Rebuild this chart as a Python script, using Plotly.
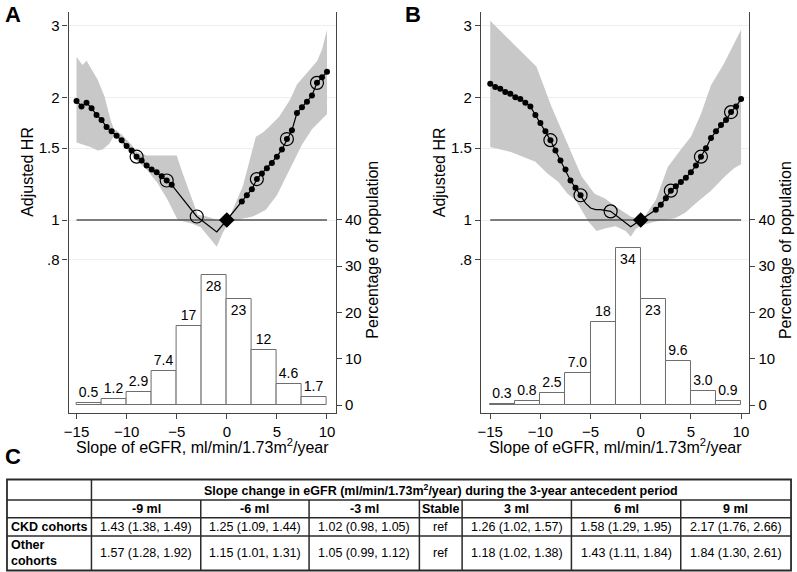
import plotly.graph_objects as go

W, H = 797, 572

# ---------------- data ----------------
slope_ticks = [-15, -10, -5, 0, 5, 10]
hr_tickvals = [0.8, 1, 1.5, 2, 3]
hr_ticktext = [".8", "1", "1.5", "2", "3"]
pct_tickvals = [0, 10, 20, 30, 40]

# histogram (percentage of population per 2.5-unit slope bin)
bin_left = [-15, -12.5, -10, -7.5, -5, -2.5, 0, 2.5, 5, 7.5]
bin_width = 2.5
A_pct = [0.5, 1.2, 2.9, 7.4, 17, 28, 23, 12, 4.6, 1.7]
B_pct = [0.3, 0.8, 2.5, 7.0, 18, 34, 23, 9.6, 3.0, 0.9]

# adjusted HR curves
A_curve_x = [-15, -14.5, -14, -13.5, -13, -12.5, -12, -11.5, -11, -10.5,
             -10, -9.5, -9, -8.5, -8, -7.5, -7, -6.5, -6, -5.5,
             -3, -1, 0,
             1.5, 2, 2.5, 3, 3.5, 4, 4.5, 5, 5.5, 6, 6.5, 7, 7.5, 8, 8.5, 9, 9.5, 10]
A_curve_y = [1.96, 1.90, 1.94, 1.88, 1.81, 1.76, 1.69, 1.65, 1.61, 1.57,
             1.52, 1.48, 1.43, 1.40, 1.36, 1.33, 1.31, 1.28, 1.25, 1.22,
             1.02, 0.935, 1.0,
             1.11, 1.15, 1.19, 1.26, 1.30, 1.34, 1.38, 1.43, 1.49, 1.58, 1.66, 1.83, 1.89, 1.95, 2.02, 2.17, 2.24, 2.31]
A_line_only_x = [-3, -1, 0]

B_curve_x = [-15, -14.5, -14, -13.5, -13, -12.5, -12, -11.5, -11, -10.5,
             -10, -9.5, -9, -8.5, -8, -7.5, -7, -6.5, -6,
             -5.5, -5, -4.5, -4, -3.5, -3, -1, 0,
             1.5, 2, 2.5, 3, 3.5, 4, 4.5, 5, 5.5, 6, 6.5, 7, 7.5, 8, 8.5, 9, 9.5, 10]
B_curve_y = [2.16, 2.12, 2.10, 2.06, 2.04, 2.00, 1.98, 1.94, 1.90, 1.81,
             1.73, 1.65, 1.57, 1.48, 1.40, 1.33, 1.25, 1.20, 1.15,
             1.10, 1.07, 1.06, 1.06, 1.055, 1.05, 0.963, 1.0,
             1.06, 1.09, 1.13, 1.18, 1.21, 1.24, 1.27, 1.31, 1.36, 1.43, 1.50, 1.59, 1.65, 1.71, 1.76, 1.84, 1.90, 1.98]
B_line_only_x = [-5.5, -5, -4.5, -4, -3.5, -3, -1, 0]

# 95% confidence bands
A_ci_upper_x = [-15, -14.4, -14.0, -12.9, -12.2, -11.6, -11.3, -10.5, -9.5, -9.0,
                -8.0, -5.0, -4.4, -3.4, -2.9, -2.0, -1.0, 0, 0.3, 1.6,
                2.9, 3.6, 4.2, 5.2, 6.3, 7.0, 8.0, 9.0, 9.5, 10]
A_ci_upper_y = [2.51, 2.40, 2.46, 2.21, 2.01, 1.76, 1.68, 1.62, 1.53, 1.47,
                1.44, 1.44, 1.30, 1.12, 1.03, 1.02, 1.0, 1.0, 1.02, 1.21,
                1.60, 1.64, 1.69, 1.79, 1.97, 2.15, 2.30, 2.45, 2.62, 2.93]
A_ci_lower_x = [-15, -13.6, -12.9, -12.4, -11.7, -11.2, -10.5, -9.5, -9.0, -8.0,
                -6.9, -5.9, -4.9, -3.5, -2.6, -1.0, -0.4, 0, 0.9, 2.6,
                3.9, 5.0, 6.0, 6.9, 7.5, 8.5, 10]
A_ci_lower_y = [1.55, 1.51, 1.48, 1.49, 1.54, 1.62, 1.54, 1.45, 1.40, 1.33,
                1.23, 1.12, 1.0, 0.98, 0.96, 0.86, 0.93, 0.97, 1.0, 1.02,
                1.06, 1.15, 1.28, 1.43, 1.53, 1.67, 1.82]

B_ci_upper_x = [-15, -11.0, -10.4, -8.9, -7.2, -5.9, -4.6, -3.6, -2.3, -1.0,
                0, 0.5, 1.5, 2.7, 4.0, 5.0, 6.0, 7.0, 8.3, 10]
B_ci_upper_y = [3.08, 2.47, 2.38, 1.90, 1.51, 1.28, 1.16, 1.13, 1.07, 1.02,
                1.0, 1.03, 1.12, 1.35, 1.49, 1.60, 1.82, 2.14, 2.42, 2.93]
B_ci_lower_x = [-15, -13, -10.5, -9.3, -8.2, -7.3, -6.5, -5.2, -4.4, -3.5,
                -2.5, -1.5, -1.0, -0.5, 0, 1.4, 3.4, 4.4, 5.7, 7.0,
                8.4, 9.3, 10]
B_ci_lower_y = [1.51, 1.47, 1.39, 1.30, 1.24, 1.16, 1.12, 0.99, 0.94, 0.955,
                0.965, 0.94, 0.91, 0.95, 0.97, 0.99, 1.01, 1.04, 1.11, 1.18,
                1.28, 1.34, 1.37]

# table (panel C)
ring_x = [-9, -6, -3, 3, 6, 9]
col_labels = ["-9 ml", "-6 ml", "-3 ml", "Stable", "3 ml", "6 ml", "9 ml"]
row_labels = ["CKD cohorts", "Other<br>cohorts"]
ckd_hr = [1.43, 1.25, 1.02, 1.26, 1.58, 2.17]
ckd_lo = [1.38, 1.09, 0.98, 1.02, 1.29, 1.76]
ckd_hi = [1.49, 1.44, 1.05, 1.57, 1.95, 2.66]
oth_hr = [1.57, 1.15, 1.05, 1.18, 1.43, 1.84]
oth_lo = [1.28, 1.01, 0.99, 1.02, 1.11, 1.30]
oth_hi = [1.92, 1.31, 1.12, 1.38, 1.84, 2.61]
ref_label = "ref"
ref_hr = 1.0
header_text = "Slope change in eGFR (ml/min/1.73m<sup>2</sup>/year) during the 3-year antecedent period"

# ---------------- helpers ----------------
def fx(px):
    return px / W

def fy(py):
    return 1 - py / H

FONT = "Liberation Sans, Arial, Helvetica, sans-serif"
BAND = "#c8c8c8"

fig = go.Figure()


def add_panel(xa, ya, ya2, pct, cx, cy, only, ux, uy, lx, ly, rings):
    xref = xa
    # CI band
    fig.add_trace(go.Scatter(x=ux + lx[::-1], y=uy + ly[::-1], fill="toself",
                             fillcolor=BAND, line=dict(width=0), mode="lines",
                             xaxis=xref, yaxis=ya, showlegend=False, hoverinfo="skip"))
    # reference line at HR = 1
    fig.add_trace(go.Scatter(x=[slope_ticks[0], slope_ticks[-1]], y=[ref_hr, ref_hr],
                             mode="lines", line=dict(color="#555555", width=1.3),
                             xaxis=xref, yaxis=ya, showlegend=False))
    # curve
    fig.add_trace(go.Scatter(x=cx, y=cy, mode="lines", line=dict(color="black", width=1.2),
                             xaxis=xref, yaxis=ya, showlegend=False))
    dx = [x for x in cx if x not in only]
    dy = [y for x, y in zip(cx, cy) if x not in only]
    fig.add_trace(go.Scatter(x=dx, y=dy, mode="markers",
                             marker=dict(color="black", size=6),
                             xaxis=xref, yaxis=ya, showlegend=False))
    fig.add_trace(go.Scatter(x=ring_x, y=rings, mode="markers",
                             marker=dict(symbol="circle-open", color="black", size=13,
                                         line=dict(width=1.2)),
                             xaxis=xref, yaxis=ya, showlegend=False))
    fig.add_trace(go.Scatter(x=[0], y=[ref_hr], mode="markers",
                             marker=dict(symbol="diamond", color="black", size=12),
                             xaxis=xref, yaxis=ya, showlegend=False))
    # histogram
    centers = [b + bin_width / 2 for b in bin_left]
    labels = [f"{v:.0f}" if v >= 10 else f"{v:.1f}" for v in pct]
    pos = ["inside" if v >= 20 else "outside" for v in pct]
    fig.add_trace(go.Bar(x=centers, y=pct, width=[bin_width] * len(pct),
                         marker=dict(color="white", line=dict(color="#6e6e6e", width=1)),
                         text=labels, textposition=pos, insidetextanchor="end",
                         textangle=0, constraintext="none",
                         textfont=dict(size=14, color="black", family=FONT),
                         xaxis=xref, yaxis=ya2, showlegend=False, cliponaxis=False))


add_panel("x", "y", "y2", A_pct, A_curve_x, A_curve_y, A_line_only_x,
          A_ci_upper_x, A_ci_upper_y, A_ci_lower_x, A_ci_lower_y, ckd_hr)
add_panel("x2", "y3", "y4", B_pct, B_curve_x, B_curve_y, B_line_only_x,
          B_ci_upper_x, B_ci_upper_y, B_ci_lower_x, B_ci_lower_y, oth_hr)

ydom = [fy(413), fy(12)]
axis_common = dict(showline=True, linecolor="#444444", linewidth=1.2, ticks="outside",
                   ticklen=5, tickcolor="#444444", tickfont=dict(size=15, color="black"),
                   zeroline=False)
hr_axis = dict(axis_common, type="log", range=[-0.4735, 0.5103], tickvals=hr_tickvals,
               ticktext=hr_ticktext, showgrid=True, gridcolor="#eeeeee", gridwidth=1,
               domain=ydom)
pct_axis = dict(axis_common, side="right", range=[-1.73, 84.97], tickvals=pct_tickvals,
                showgrid=False)
x_axis = dict(axis_common, tickvals=slope_ticks, showgrid=False)

fig.update_layout(
    width=W, height=H, margin=dict(l=0, r=0, t=0, b=0),
    paper_bgcolor="white", plot_bgcolor="white",
    font=dict(family=FONT, color="black"),
    bargap=0,
    xaxis=dict(x_axis, domain=[fx(64), fx(333)], range=[-15.79, 10.89], anchor="y"),
    yaxis=dict(hr_axis, anchor="x"),
    yaxis2=dict(pct_axis, overlaying="y", anchor="x"),
    xaxis2=dict(x_axis, domain=[fx(479), fx(749)], range=[-15.92, 10.82], anchor="y3"),
    yaxis3=dict(hr_axis, anchor="x2"),
    yaxis4=dict(pct_axis, overlaying="y3", anchor="x2"),
)

ann = []


def text(x, y, s, size=16, bold=False, angle=0, xanchor="center", yanchor="middle", align="center"):
    if bold:
        s = f"<b>{s}</b>"
    ann.append(dict(x=fx(x), y=fy(y), xref="paper", yref="paper", text=s, showarrow=False,
                    font=dict(size=size, family=FONT, color="black"), textangle=angle,
                    xanchor=xanchor, yanchor=yanchor, align=align))


# axis titles
xtitle = "Slope of eGFR, ml/min/1.73m<sup>2</sup>/year"
for left, right, ytx, ptx in [(64, 333, 23, 369), (479, 749, 438, 785)]:
    text(ytx, 172, "Adjusted HR", angle=-90)
    text(ptx, 250, "Percentage of population", angle=-90)
    text((left + right) / 2, 446, xtitle)

# panel letters
text(-2, 14, "A", size=22, bold=True, xanchor="left")
text(401, 14, "B", size=22, bold=True, xanchor="left")
text(-2, 456, "C", size=22, bold=True, xanchor="left")

# ---------------- table ----------------
col_edges = [2, 87, 197, 306, 417, 460, 570, 680, 791]
row_edges = [479.5, 500, 517.7, 536, 570.5]
shapes = []
LC = "#2a2a2a"
shapes.append(dict(type="rect", xref="paper", yref="paper", x0=fx(col_edges[0]), x1=fx(col_edges[-1]),
                   y0=fy(row_edges[0]), y1=fy(row_edges[-1]), line=dict(color=LC, width=1.8)))
for r in row_edges[1:-1]:
    shapes.append(dict(type="line", xref="paper", yref="paper", x0=fx(col_edges[0]), x1=fx(col_edges[-1]),
                       y0=fy(r), y1=fy(r), line=dict(color=LC, width=1.5)))
shapes.append(dict(type="line", xref="paper", yref="paper", x0=fx(col_edges[1]), x1=fx(col_edges[1]),
                   y0=fy(row_edges[0]), y1=fy(row_edges[-1]), line=dict(color=LC, width=1.5)))
for c in col_edges[2:-1]:
    shapes.append(dict(type="line", xref="paper", yref="paper", x0=fx(c), x1=fx(c),
                       y0=fy(row_edges[1]), y1=fy(row_edges[-1]), line=dict(color=LC, width=1.5)))

TS = 12.5
rc = [(row_edges[i] + row_edges[i + 1]) / 2 for i in range(4)]
text((col_edges[1] + col_edges[-1]) / 2, rc[0], header_text, size=12.5, bold=True)
centers = [(col_edges[i] + col_edges[i + 1]) / 2 for i in range(1, 8)]
for cxp, lab in zip(centers, col_labels):
    text(cxp, rc[1], lab, size=TS, bold=True)


def cells(hr, lo, hi):
    out = [f"{h:.2f} ({l:.2f}, {u:.2f})" for h, l, u in zip(hr, lo, hi)]
    return out[:3] + [ref_label] + out[3:]


for ri, (lab, vals) in enumerate([(row_labels[0], cells(ckd_hr, ckd_lo, ckd_hi)),
                                  (row_labels[1], cells(oth_hr, oth_lo, oth_hi))]):
    y = rc[2 + ri]
    text(4, y, lab, size=TS, bold=True, xanchor="left", align="left")
    for cxp, v in zip(centers, vals):
        text(cxp, y, v, size=TS)

fig.update_layout(annotations=ann, shapes=shapes)
fig.write_html("out.html", config={"displayModeBar": False},
               post_script="document.body.style.margin='0';document.body.style.overflow='hidden';")
